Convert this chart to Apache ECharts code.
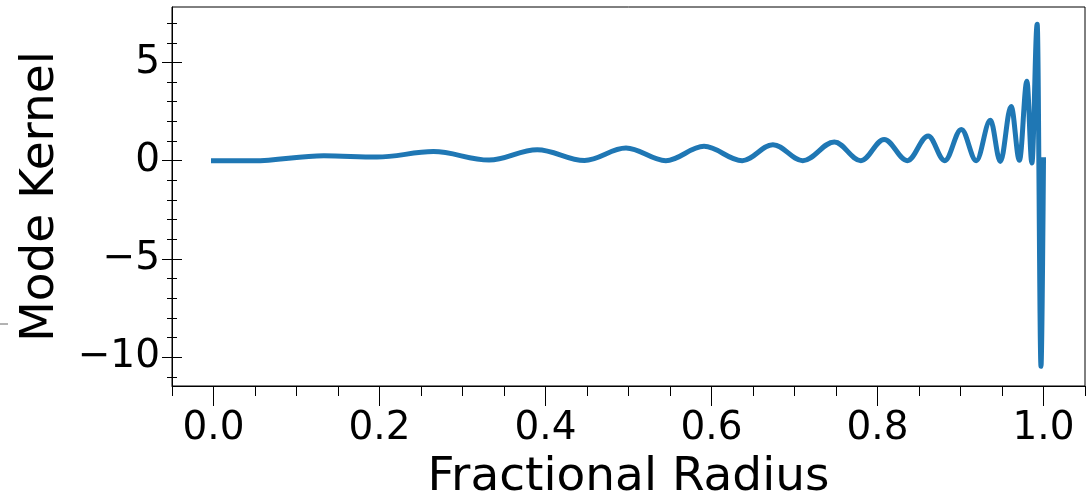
<!DOCTYPE html>
<html>
<head>
<meta charset="utf-8">
<script src="https://cdn.jsdelivr.net/npm/echarts@6/dist/echarts.min.js"></script>
<style>
html,body{margin:0;padding:0;background:#fff;}
#chart{width:1092px;height:501px;}
</style>
</head>
<body>
<div id="chart"></div>
<script>
// Values (extrema of the oscillating kernel)
const radius = [0, 0.048, 0.133, 0.197, 0.265, 0.332, 0.390, 0.447, 0.497, 0.545, 0.591, 0.637, 0.674, 0.710, 0.748, 0.780, 0.808, 0.836, 0.861, 0.881, 0.901, 0.919, 0.936, 0.948, 0.961, 0.971, 0.980, 0.986, 0.9924, 0.997, 1.0];
const kernel = [0, -0.01, 0.25, 0.18, 0.46, 0.03, 0.56, 0.01, 0.64, 0.0, 0.73, 0.0, 0.81, 0.0, 0.95, 0.0, 1.08, 0.0, 1.26, 0.0, 1.59, 0.0, 2.05, -0.04, 2.76, 0.02, 4.04, -0.12, 6.94, -10.47, 0.05];

const xMajorTicks = [0.0, 0.2, 0.4, 0.6, 0.8, 1.0];
const xMinorTicks = [-0.05, 0.05, 0.1, 0.15, 0.25, 0.3, 0.35, 0.45, 0.5, 0.55, 0.65, 0.7, 0.75, 0.85, 0.9, 0.95, 1.05];
const yMajorTicks = [-10, -5, 0, 5];
const yMinorTicks = [-11, -9, -8, -7, -6, -4, -3, -2, -1, 1, 2, 3, 4, 6, 7];

const xLabel = 'Fractional Radius';
const yLabel = 'Mode Kernel';

const FONT = 'DejaVu Sans';
const X_MIN = -0.05, X_MAX = 1.05;
const Y_MIN = -11.47, Y_MAX = 7.82;

const chart = echarts.init(document.getElementById('chart'), null, {renderer: 'canvas'});

function yAxisDef(ticks, len, inside, withLabel) {
  return {
    type: 'value', position: 'left', min: Y_MIN, max: Y_MAX,
    axisLine: {show: withLabel, onZero: false, lineStyle: {color: '#000', width: 1}},
    axisTick: {show: true, customValues: ticks, inside: inside, length: len, lineStyle: {color: '#000', width: 1}},
    splitLine: {show: false},
    axisLabel: withLabel ? {
      show: true, customValues: yMajorTicks, margin: 12,
      fontFamily: FONT, fontSize: 39, color: '#000',
      formatter: v => String(v).replace('-', '\u2212')
    } : {show: false},
    name: withLabel ? yLabel : '',
    nameLocation: 'middle', nameGap: 108,
    nameTextStyle: {fontFamily: FONT, fontSize: 47, color: '#000'}
  };
}

function xAxisDef(ticks, len, withLabel) {
  return {
    type: 'value', position: 'bottom', min: X_MIN, max: X_MAX,
    axisLine: {show: withLabel, onZero: false, lineStyle: {color: '#000', width: 1}},
    axisTick: {show: true, customValues: ticks, inside: false, length: len, lineStyle: {color: '#000', width: 1}},
    splitLine: {show: false},
    axisLabel: withLabel ? {
      show: true, customValues: xMajorTicks, margin: 23,
      fontFamily: FONT, fontSize: 39, color: '#000',
      formatter: v => v.toFixed(1)
    } : {show: false},
    name: withLabel ? xLabel : '',
    nameLocation: 'middle', nameGap: 68,
    nameTextStyle: {fontFamily: FONT, fontSize: 47, color: '#000'}
  };
}

const option = {
  animation: false,
  backgroundColor: '#fff',
  grid: {left: 172, top: 7, width: 913, height: 379, containLabel: false, outerBoundsMode: 'none',
         show: true, borderColor: '#000', borderWidth: 1, backgroundColor: 'transparent'},
  xAxis: [xAxisDef(xMajorTicks, 20, true), xAxisDef(xMinorTicks, 10, false)],
  yAxis: [
    yAxisDef(yMajorTicks, 10, false, true),
    yAxisDef(yMajorTicks, 10, true, false),
    yAxisDef(yMinorTicks, 5, false, false),
    yAxisDef(yMinorTicks, 5, true, false)
  ],
  series: [{
    type: 'line',
    xAxisIndex: 0, yAxisIndex: 0,
    data: radius.map((r, i) => [r, kernel[i]]),
    showSymbol: false,
    smooth: 0.36,
    smoothMonotone: 'x',
    lineStyle: {color: '#1f77b4', width: 5, cap: 'square', join: 'round'},
    clip: false
  }],
  graphic: [{
    type: 'line', shape: {x1: 0, y1: 324, x2: 8, y2: 324},
    style: {stroke: '#666', lineWidth: 1}
  }]
};
chart.setOption(option);
</script>
</body>
</html>
